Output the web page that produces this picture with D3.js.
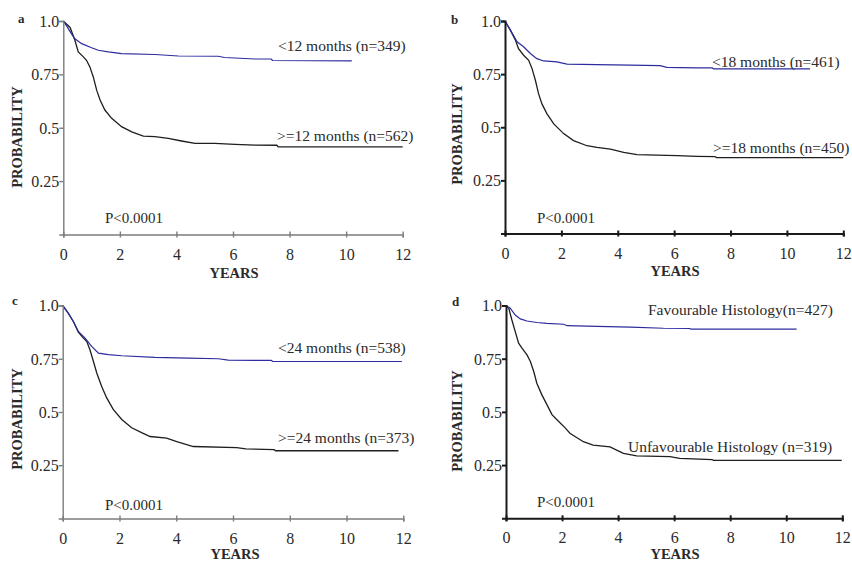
<!DOCTYPE html>
<html>
<head>
<meta charset="utf-8">
<script src="https://cdnjs.cloudflare.com/ajax/libs/d3/7.8.5/d3.min.js"></script>
<style>
  body { margin: 0; background: #fff; }
  svg { display: block; }
  text { font-family: "Liberation Serif", "Times New Roman", serif; fill: #2a2a2a; }
</style>
</head>
<body>
<div id="chart"></div>
<script>
// axis ticks
var yearTicks = [0, 2, 4, 6, 8, 10, 12];
var probTicks = [0.25, 0.5, 0.75, 1.0];
var probTickLabels = ["0.25", "0.5", "0.75", "1.0"];

// panel texts
var panelLetters = ["a", "b", "c", "d"];
var shortLabels = ["<12 months (n=349)", "<18 months (n=461)", "<24 months (n=538)", "Favourable Histology(n=427)"];
var longLabels = [">=12 months (n=562)", ">=18 months (n=450)", ">=24 months (n=373)", "Unfavourable Histology (n=319)"];
var pValues = ["P<0.0001", "P<0.0001", "P<0.0001", "P<0.0001"];

// survival curves: [years, probability]
var aShort = [[0,1],[0.15,0.97],[0.29,0.94],[0.41,0.917],[0.65,0.894],[1.0,0.875],[1.24,0.863],[1.59,0.855],[2.06,0.847],[3.24,0.843],[4.07,0.836],[5.48,0.835],[5.7,0.829],[6.78,0.822],[7.35,0.822],[7.4,0.815],[10.2,0.813]];
var aLong = [[0,1],[0.24,0.97],[0.41,0.91],[0.53,0.855],[0.71,0.832],[0.82,0.816],[0.94,0.785],[1.06,0.738],[1.18,0.676],[1.3,0.63],[1.47,0.583],[1.71,0.544],[2.06,0.505],[2.42,0.481],[2.83,0.461],[3.24,0.458],[3.71,0.45],[4.18,0.438],[4.66,0.427],[5.36,0.427],[6.07,0.422],[6.78,0.419],[7.55,0.418],[7.6,0.41],[12,0.41]];

var bShort = [[0,1],[0.19,0.957],[0.43,0.902],[0.66,0.879],[0.9,0.847],[1.13,0.823],[1.37,0.812],[1.84,0.808],[2.2,0.797],[3.26,0.795],[4.44,0.792],[5.5,0.79],[5.74,0.782],[6.8,0.779],[7.35,0.779],[7.4,0.775],[10.82,0.775]];
var bLong = [[0,1],[0.19,0.957],[0.37,0.91],[0.48,0.87],[0.66,0.839],[0.84,0.815],[0.96,0.776],[1.08,0.72],[1.19,0.658],[1.31,0.61],[1.49,0.563],[1.73,0.516],[2.08,0.47],[2.43,0.437],[2.91,0.413],[3.26,0.405],[3.74,0.397],[4.21,0.382],[4.68,0.371],[5.39,0.369],[6.1,0.366],[6.81,0.363],[7.45,0.362],[7.5,0.357],[12,0.357]];

var cShort = [[0,1],[0.2,0.963],[0.38,0.924],[0.55,0.878],[0.79,0.847],[1.02,0.808],[1.26,0.776],[1.61,0.769],[2.08,0.764],[3.25,0.756],[4.42,0.753],[5.48,0.75],[5.83,0.744],[6.77,0.742],[7.35,0.742],[7.4,0.737],[11.95,0.737]];
var cLong = [[0,1],[0.2,0.963],[0.38,0.924],[0.55,0.875],[0.73,0.847],[0.85,0.831],[0.96,0.792],[1.08,0.738],[1.2,0.683],[1.37,0.621],[1.55,0.566],[1.78,0.512],[2.08,0.465],[2.43,0.426],[2.78,0.403],[3.08,0.385],[3.66,0.377],[4.02,0.361],[4.6,0.338],[6.13,0.333],[6.45,0.327],[7.45,0.323],[7.5,0.318],[11.83,0.318]];

var dShort = [[0,1],[0.15,0.987],[0.33,0.955],[0.51,0.937],[0.75,0.927],[1.1,0.92],[1.46,0.916],[2.06,0.912],[2.18,0.905],[3.25,0.902],[4.44,0.898],[5.62,0.893],[6.55,0.892],[6.6,0.889],[10.37,0.889]];
var dLong = [[0,1],[0.1,0.987],[0.21,0.932],[0.33,0.877],[0.45,0.823],[0.57,0.8],[0.75,0.768],[0.87,0.737],[0.99,0.69],[1.1,0.635],[1.28,0.58],[1.46,0.534],[1.64,0.487],[1.88,0.455],[2.12,0.424],[2.28,0.4],[2.76,0.36],[3.11,0.344],[3.71,0.336],[4.19,0.305],[4.66,0.293],[5.85,0.29],[6.2,0.282],[7.35,0.276],[7.4,0.272],[11.98,0.272]];

var shortCurves = [aShort, bShort, cShort, dShort];
var longCurves = [aLong, bLong, cLong, dLong];

var svg = d3.select("#chart").append("svg")
    .attr("width", 852)
    .attr("height", 562);

// where each panel sits on the page
var layout = [
    {x0: 63.3, x1: 402.7, y0: 234.5, y1: 21,    axis: "#7c7c7c", axisW: 1.4, letter: [18, 23],  ylab: 22,  ylabY: 137, xlabX: 234, xlabY: 278, p: [105, 223], s: [278, 51],  l: [277, 141]},
    {x0: 505,  x1: 843.3, y0: 233.5, y1: 21,    axis: "#1a1a1a", axisW: 2,   letter: [451, 24], ylab: 462, ylabY: 134, xlabX: 675, xlabY: 276, p: [537, 223], s: [712, 67],  l: [713, 153]},
    {x0: 62.7, x1: 403.3, y0: 518.5, y1: 305.5, axis: "#7c7c7c", axisW: 1.4, letter: [12, 305], ylab: 22,  ylabY: 419, xlabX: 235, xlabY: 558.5, p: [105, 510], s: [278, 353], l: [278, 443]},
    {x0: 506,  x1: 842.3, y0: 518.3, y1: 305.5, axis: "#1a1a1a", axisW: 2,   letter: [452, 306], ylab: 462, ylabY: 421, xlabX: 675, xlabY: 558.5, p: [537, 507], s: [648, 315], l: [628, 452]}
];

layout.forEach(function(L, i) {
    var x = d3.scaleLinear().domain([0, 12]).range([L.x0, L.x1]);
    var y = d3.scaleLinear().domain([0, 1]).range([L.y0, L.y1]);
    var g = svg.append("g").attr("class", "panel");

    var line = d3.line().x(function(d) { return x(d[0]); }).y(function(d) { return y(d[1]); });

    g.append("path").datum(longCurves[i])
        .attr("d", line).attr("fill", "none")
        .attr("stroke", "#1e1e1e").attr("stroke-width", 1.3);
    g.append("path").datum(shortCurves[i])
        .attr("d", line).attr("fill", "none")
        .attr("stroke", "#2c2c9e").attr("stroke-width", 1.2);

    // x axis
    var xAxis = g.append("g")
        .attr("transform", "translate(0," + L.y0 + ")")
        .call(d3.axisBottom(x).tickValues(yearTicks).tickFormat(d3.format("d")).tickSizeOuter(0).tickSize(3));
    xAxis.selectAll(".tick line").attr("y1", -3).attr("y2", 3);
    xAxis.selectAll(".tick text").attr("y", 25).attr("dy", 0).style("font-size", "16px");

    // y axis
    var yAxis = g.append("g")
        .attr("transform", "translate(" + L.x0 + ",0)")
        .call(d3.axisLeft(y).tickValues(probTicks)
            .tickFormat(function(d, k) { return probTickLabels[k]; })
            .tickSizeOuter(0).tickSize(4).tickPadding(0));
    yAxis.selectAll(".tick text").attr("dy", "0.34em").style("font-size", "16px");

    [xAxis, yAxis].forEach(function(a) {
        a.select(".domain").attr("stroke", L.axis).attr("stroke-width", L.axisW);
        a.selectAll(".tick line").attr("stroke", L.axis).attr("stroke-width", L.axisW);
        a.attr("font-family", null).attr("font-size", null);
        a.selectAll(".tick text").attr("fill", "#2a2a2a");
    });

    g.append("text").attr("x", L.letter[0]).attr("y", L.letter[1])
        .style("font-size", "13px").style("font-weight", "bold").text(panelLetters[i]);

    g.append("text").attr("x", L.xlabX).attr("y", L.xlabY)
        .attr("text-anchor", "middle")
        .style("font-size", "14.5px").style("font-weight", "bold").text("YEARS");

    g.append("text")
        .attr("transform", "translate(" + L.ylab + "," + L.ylabY + ") rotate(-90)")
        .attr("text-anchor", "middle")
        .style("font-size", "14.5px").style("font-weight", "bold").text("PROBABILITY");

    g.append("text").attr("x", L.p[0]).attr("y", L.p[1])
        .style("font-size", "15px").text(pValues[i]);
    g.append("text").attr("x", L.s[0]).attr("y", L.s[1])
        .style("font-size", "15.5px").text(shortLabels[i]);
    g.append("text").attr("x", L.l[0]).attr("y", L.l[1])
        .style("font-size", "15.5px").text(longLabels[i]);
});
</script>
</body>
</html>
